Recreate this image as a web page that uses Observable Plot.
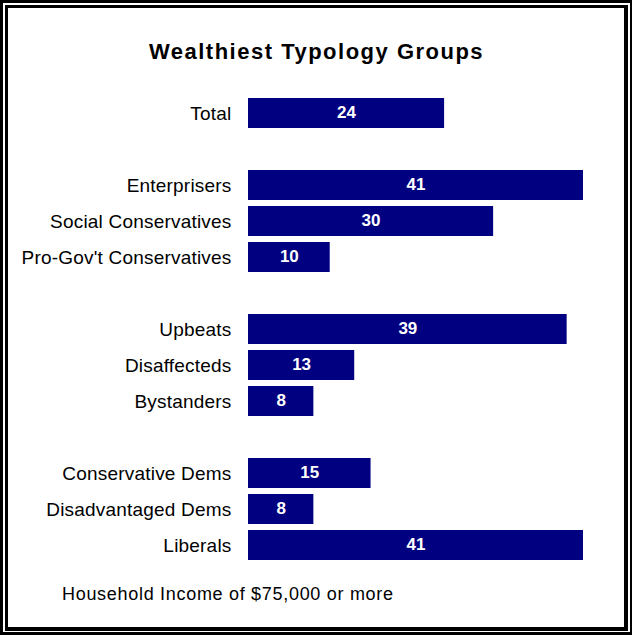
<!DOCTYPE html>
<html>
<head>
<meta charset="utf-8">
<script src="https://cdn.jsdelivr.net/npm/d3@7"></script>
<script src="https://cdn.jsdelivr.net/npm/@observablehq/plot@0.6"></script>
<style>
  html, body { margin: 0; padding: 0; background: #fff; }
  #frame { position: relative; width: 632px; height: 635px; font-family: "Liberation Sans", Arial, sans-serif; }
  #outer { position: absolute; left: 0; top: 0; width: 632px; height: 635px; box-sizing: border-box;
           border-style: solid; border-color: #000; border-width: 3px 2px 3px 3px; }
  #inner { position: absolute; left: 5px; top: 5px; width: 623px; height: 626px; box-sizing: border-box;
           border-style: solid; border-color: #000; border-width: 3px 4px 4px 3px; }
  #title { position: absolute; left: 5px; width: 623px; top: 41px; text-align: center;
           font-size: 22px; line-height: 22px; font-weight: bold; letter-spacing: 1.5px; color: #000; }
  #caption { position: absolute; left: 62px; top: 585px; font-size: 18px; line-height: 18px;
             letter-spacing: 0.7px; color: #000; white-space: nowrap; }
  #chart { position: absolute; left: 0; top: 80px; }
  #chart svg { font-family: "Liberation Sans", Arial, sans-serif; overflow: visible; }
  #chart .ylab text { letter-spacing: 0.2px; }
</style>
</head>
<body>
<div id="frame">
  <div id="outer"></div>
  <div id="inner"></div>
  <div id="title">Wealthiest Typology Groups</div>
  <div id="chart"></div>
  <div id="caption">Household Income of $75,000 or more</div>
</div>
<script>
const groups = ["Total", "Enterprisers", "Social Conservatives", "Pro-Gov't Conservatives",
                "Upbeats", "Disaffecteds", "Bystanders",
                "Conservative Dems", "Disadvantaged Dems", "Liberals"];
const values = [24, 41, 30, 10, 39, 13, 8, 15, 8, 41];
const rowOrder = ["Total", "gap1", "Enterprisers", "Social Conservatives", "Pro-Gov't Conservatives", "gap2",
                  "Upbeats", "Disaffecteds", "Bystanders", "gap3",
                  "Conservative Dems", "Disadvantaged Dems", "Liberals"];

const data = groups.map((g, i) => ({group: g, value: values[i]}));

const chart = Plot.plot({
  width: 632,
  height: 500,
  marginLeft: 248,
  marginRight: 49,
  marginTop: 15,
  marginBottom: 17,
  x: {domain: [0, 41], axis: null},
  y: {domain: rowOrder, padding: 0, label: null},
  style: {background: "transparent"},
  marks: [
    Plot.barX(data, {x: "value", y: "group", fill: "#000080", insetTop: 3, insetBottom: 3}),
    Plot.text(data, {x: d => d.value / 2, y: "group", text: d => String(d.value),
                     fill: "white", fontWeight: "bold", fontSize: 17, dy: -1}),
    Plot.axisY({ticks: groups, tickSize: 0, tickPadding: 17, fontSize: 19, label: null,
                className: "ylab", fill: "#000",
                tickFormat: d => d.startsWith("gap") ? "" : d})
  ]
});
document.getElementById("chart").appendChild(chart);
</script>
</body>
</html>
